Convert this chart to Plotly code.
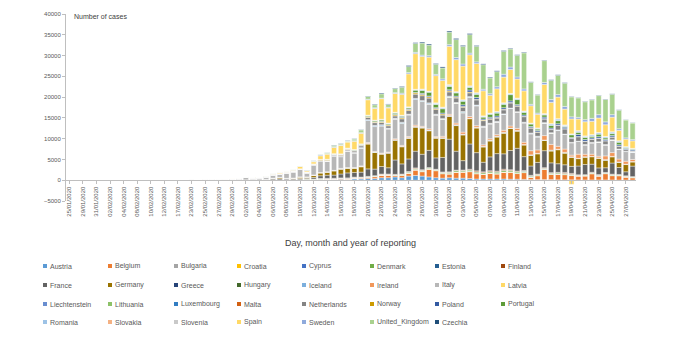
import plotly.graph_objects as go

dates = [
    "25/01/2020", "27/01/2020", "29/01/2020", "30/01/2020", "31/01/2020",
    "01/02/2020", "02/02/2020", "03/02/2020", "04/02/2020", "06/02/2020",
    "08/02/2020", "09/02/2020", "10/02/2020", "11/02/2020", "12/02/2020",
    "14/02/2020", "17/02/2020", "20/02/2020", "23/02/2020", "24/02/2020",
    "25/02/2020", "26/02/2020", "27/02/2020", "28/02/2020", "29/02/2020",
    "01/03/2020", "02/03/2020", "03/03/2020", "04/03/2020", "05/03/2020",
    "06/03/2020", "07/03/2020", "08/03/2020", "09/03/2020", "10/03/2020",
    "11/03/2020", "12/03/2020", "13/03/2020", "14/03/2020", "15/03/2020",
    "16/03/2020", "17/03/2020", "18/03/2020", "19/03/2020", "20/03/2020",
    "21/03/2020", "22/03/2020", "23/03/2020", "24/03/2020", "25/03/2020",
    "26/03/2020", "27/03/2020", "28/03/2020", "29/03/2020", "30/03/2020",
    "31/03/2020", "01/04/2020", "02/04/2020", "03/04/2020", "04/04/2020",
    "05/04/2020", "06/04/2020", "07/04/2020", "08/04/2020", "09/04/2020",
    "10/04/2020", "11/04/2020", "12/04/2020", "13/04/2020", "14/04/2020",
    "15/04/2020", "16/04/2020", "17/04/2020", "18/04/2020", "19/04/2020",
    "20/04/2020", "21/04/2020", "22/04/2020", "23/04/2020", "24/04/2020",
    "25/04/2020", "26/04/2020", "27/04/2020", "28/04/2020",
]

austria = [0,0,0,0,0, 0,0,0,0,0, 0,0,0,0,0, 0,0,0,0,0, 0,2,1,2,4,
           4,4,8,6,8,20,14,25,25,29,
           51,64,115,150,148,205,158,314,314,400,
           400,600,600,800,600,1000,1141,1000,800,600,500,
           600,500,500,400,300,300,300,300,300,250,
           250,200,150,150,150,150,100,100,80,80,
           70,70,70,70,60,50,50,50]
belgium = [0,0,0,0,0, 0,0,0,1,0, 0,0,0,0,0, 0,0,0,0,0, 0,0,0,0,0,
           0,6,6,5,13,27,59,60,30,39,
           28,47,85,160,133,197,172,185,243,309,
           462,558,586,342,526,668,1298,1049,1850,1702,1063,
           876,1384,1422,1661,1260,1123,1380,1209,1580,1684,
           1351,1629,530,942,2454,1236,1329,1236,1045,933,
           973,1487,933,1496,1032,1032,701,553]
bulgaria = [0,0,0,0,0, 0,0,0,0,0, 0,0,0,0,0, 0,0,0,0,0, 0,0,0,0,0,
            0,0,0,0,0,0,0,4,0,2,
            0,1,16,0,10,20,0,30,11,7,
            4,38,38,16,22,22,16,42,27,13,40,
            40,17,27,20,24,8,18,32,19,27,
            22,20,16,13,20,22,29,40,25,31,
            21,31,35,52,43,25,46,24]
croatia = [0,0,0,0,0, 0,0,0,0,0, 0,0,0,0,0, 0,0,0,0,0, 0,1,2,0,2,
           0,0,2,2,1,2,1,1,2,1,
           2,1,5,7,13,11,19,16,24,23,
           36,51,71,27,53,66,91,71,67,77,51,
           96,66,69,28,38,52,36,46,69,51,
           35,25,59,39,20,31,26,33,48,20,
           25,46,24,11,19,32,26,14]
cyprus = [0,0,0,0,0, 0,0,0,0,0, 0,0,0,0,0, 0,0,0,0,0, 0,0,0,0,0,
          0,0,0,0,0,0,0,0,0,2,
          0,1,3,9,12,8,13,21,17,9,
          17,11,3,21,5,8,14,16,9,10,16,
          4,29,24,58,33,19,15,18,22,7,
          21,16,31,8,25,10,19,9,15,8,
          14,9,4,26,12,7,12,5]
denmark = [0,0,0,0,0, 0,0,0,0,0, 0,0,0,0,0, 0,0,0,0,0, 0,0,0,1,1,
           1,1,2,4,5,10,8,7,15,54,
           172,150,150,60,50,30,60,80,100,100,
           100,120,80,100,150,200,200,200,200,150,200,
           250,300,250,300,300,300,300,350,350,300,
           300,250,200,200,200,250,250,200,200,150,
           150,150,150,150,150,150,150,150]
estonia = [0,0,0,0,0, 0,0,0,0,0, 0,0,0,0,0, 0,0,0,0,0, 0,0,0,1,0,
           0,0,1,0,2,0,5,0,1,5,
           0,1,11,6,44,36,53,69,15,41,
           24,40,46,36,55,50,39,36,23,31,57,
           45,50,65,40,79,35,21,74,42,43,
           76,66,81,18,21,10,46,27,28,10,
           9,16,31,15,49,13,8,5]
finland = [0,0,1,0,0, 0,0,0,0,0, 0,0,0,0,0, 0,0,0,0,0, 0,1,0,0,0,
           1,0,0,1,3,6,4,4,0,10,
           10,25,50,53,70,47,89,40,40,40,
           50,79,74,72,80,88,165,108,66,60,62,
           103,79,98,135,221,186,223,162,262,168,
           144,147,107,116,129,118,99,229,199,80,
           77,100,111,51,99,79,70,67]
france = [3,0,0,0,1, 0,0,0,0,0, 5,0,0,1,0, 1,0,0,0,0, 0,2,4,20,19,
          48,20,101,21,80,213,285,201,197,286,
          225,394,634,774,756,948,1198,1118,1184,1800,
          1584,1799,1502,3459,2441,3019,4024,3736,4152,2729,3492,
          7872,4563,2260,6083,4383,2306,3323,4210,3709,4624,
          5489,3322,2253,2804,4091,2357,2072,1841,1700,2107,
          2444,1958,1607,1129,2676,1673,970,2535]
germany = [0,1,3,0,1, 1,1,2,0,2, 0,0,0,2,0, 0,0,0,0,0, 0,0,10,10,26,
           57,66,70,53,66,200,300,129,240,348,
           271,500,693,733,1043,1174,1144,1042,1297,6000,
           4000,3000,3500,4764,4118,4954,5780,6294,4700,4751,4615,
           5453,6156,6174,6082,5936,3677,3834,4003,4974,5323,
           4133,2821,2537,2082,2486,2866,3380,2800,2200,1775,
           1785,1800,2352,1800,1514,1257,1737,1018]
greece = [0,0,0,0,0, 0,0,0,0,0, 0,0,0,0,0, 0,0,0,0,0, 0,0,1,2,0,
          0,0,1,3,6,4,0,21,7,18,
          16,30,36,46,17,38,21,6,31,46,
          34,31,94,71,48,78,71,95,74,64,46,
          85,54,99,28,52,62,55,48,22,15,
          31,27,21,21,19,25,22,26,41,28,
          11,12,9,39,11,0,26,25]
hungary = [0,0,0,0,0, 0,0,0,0,0, 0,0,0,0,0, 0,0,0,0,0, 0,0,0,0,0,
           0,0,0,1,2,0,0,5,0,3,
           2,4,6,3,5,7,11,26,27,23,
           48,24,23,24,24,39,34,39,34,38,38,
           50,60,38,40,53,60,73,78,85,42,
           85,53,110,58,49,156,92,147,51,43,
           72,34,50,115,78,73,68,48]
iceland = [0,0,0,0,0, 0,0,0,0,0, 0,0,0,0,0, 0,0,0,0,0, 0,0,0,0,1,
           0,1,2,10,10,18,9,10,14,11,
           15,24,36,10,39,98,56,45,72,76,
           38,95,54,20,62,85,90,87,73,57,63,
           104,95,53,36,55,20,57,70,88,36,
           38,13,17,11,9,12,3,15,8,2,
           2,3,1,4,4,1,3,1]
ireland = [0,0,0,0,0, 0,0,0,0,0, 0,0,0,0,0, 0,0,0,0,0, 0,0,0,0,0,
           0,1,0,4,5,5,5,2,2,10,
           10,27,20,27,39,40,54,69,74,190,
           126,102,121,219,204,255,302,200,294,200,325,
           295,402,500,424,390,370,345,365,500,480,
           500,553,992,832,1068,1386,700,800,400,1000,
           600,550,400,900,900,700,700,500]
italy = [0,0,0,0,2, 0,0,0,0,0, 0,0,0,0,0, 0,0,0,62,53, 97,93,78,250,238,
         240,561,347,466,587,769,778,1247,1492,1797,
         977,2313,2651,2547,3497,2823,4000,3526,4207,5322,
         5986,6557,5560,4789,5249,5210,6153,5959,5974,5217,4050,
         4053,4782,4668,4585,4805,4316,3599,3039,3836,4204,
         3951,4694,4092,3153,2972,2667,3786,3493,3000,3047,
         2256,2729,3370,2646,3021,2357,2324,1739]
latvia = [0,0,0,0,0, 0,0,0,0,0, 0,0,0,0,0, 0,0,0,0,0, 0,0,0,0,0,
          0,0,0,0,0,1,0,0,0,1,
          1,4,2,10,9,5,3,12,39,11,
          45,7,37,17,17,24,23,26,42,24,28,
          30,29,6,16,19,13,6,16,12,13,
          29,4,15,9,20,9,17,12,-1000,9,
          10,20,26,2,10,8,11,9]
liechtenstein = [0,0,0,0,0, 0,0,0,0,0, 0,0,0,0,0, 0,0,0,0,0, 0,0,0,0,0,
                 0,0,0,0,0,0,0,0,0,0,
                 0,0,0,1,0,0,2,0,2,0,
                 9,0,15,1,1,6,0,5,1,0,3,
                 0,3,4,2,3,2,0,0,0,2,
                 2,0,2,0,0,2,0,0,0,1,
                 0,0,0,0,0,0,0,0]
lithuania = [0,0,0,0,0, 0,0,0,0,0, 0,0,0,0,0, 0,0,0,0,0, 0,0,0,0,1,
             0,0,0,0,0,0,0,0,0,0,
             2,0,1,4,4,12,2,9,10,13,
             23,22,49,8,65,47,27,53,36,76,71,
             97,63,92,38,31,38,52,31,8,25,
             20,15,9,42,21,49,63,31,25,19,
             23,29,23,27,12,10,24,14]
luxembourg = [0,0,0,0,0, 0,0,0,0,0, 0,0,0,0,0, 0,0,0,0,0, 0,0,0,0,0,
              0,0,1,0,1,2,1,1,2,2,
              3,2,12,12,26,34,49,59,132,151,
              214,202,63,123,225,77,200,139,182,95,103,
              174,63,167,146,121,118,75,108,76,66,
              0,100,121,97,88,75,63,62,47,44,
              41,57,51,56,38,28,34,46]
malta = [0,0,0,0,0, 0,0,0,0,0, 0,0,0,0,0, 0,0,0,0,0, 0,0,0,0,0,
         0,0,0,0,0,0,0,1,2,1,
         1,0,6,9,9,3,16,10,10,11,
         11,17,5,17,17,16,20,15,12,14,5,
         14,6,16,2,1,14,14,10,9,7,
         9,19,18,1,19,8,13,10,10,5,
         11,12,4,2,7,5,2,4]
netherlands = [0,0,0,0,0, 0,0,0,0,0, 0,0,0,0,0, 0,0,0,0,0, 0,0,0,1,1,
               3,8,14,14,44,46,44,60,77,56,
               61,121,190,155,176,278,292,346,409,534,
               637,534,573,545,811,852,1019,1172,1159,1104,845,
               1019,1083,1026,904,1224,1316,952,777,969,1213,
               1335,1316,1174,964,867,734,1061,1235,900,1066,
               750,729,797,887,655,708,400,171]
norway = [0,0,0,0,0, 0,0,0,0,0, 0,0,0,0,0, 0,0,0,0,0, 0,0,0,1,5,
          4,6,15,8,26,25,27,60,79,51,
          86,150,200,150,100,120,100,130,150,160,
          150,200,200,250,250,250,300,300,300,250,250,
          250,200,200,200,150,150,150,150,150,120,
          100,100,100,80,80,80,60,60,50,50,
          50,50,50,40,40,30,30,30]
poland = [0,0,0,0,0, 0,0,0,0,0, 0,0,0,0,0, 0,0,0,0,0, 0,0,0,0,0,
          0,0,0,1,0,4,1,6,6,6,
          9,14,19,20,40,37,53,61,48,70,
          69,111,98,115,152,170,111,249,190,193,243,
          256,244,392,475,437,244,325,357,370,380,
          270,300,283,318,380,300,360,350,200,500,
          400,300,380,300,350,300,250,250]
portugal = [0,0,0,0,0, 0,0,0,0,0, 0,0,0,0,0, 0,0,0,0,0, 0,0,0,0,0,
            0,0,2,2,3,4,8,8,9,9,
            11,18,19,34,57,76,86,117,194,235,
            260,320,260,302,235,302,549,724,902,792,1035,
            808,783,852,638,754,452,712,699,815,1516,
            1214,638,598,349,514,643,750,181,657,521,
            516,371,603,371,444,595,163,183]
romania = [0,0,0,0,0, 0,0,0,0,0, 0,0,0,0,0, 0,0,0,0,0, 0,0,1,0,2,
           0,0,0,1,1,1,3,2,8,6,
           14,14,11,25,35,50,41,32,60,31,
           31,40,66,143,186,123,144,263,186,293,251,
           308,223,309,309,334,234,229,333,300,280,
           310,300,200,250,200,350,440,300,200,300,
           300,360,350,300,400,300,250,200]
slovakia = [0,0,0,0,0, 0,0,0,0,0, 0,0,0,0,0, 0,0,0,0,0, 0,0,0,0,0,
            0,0,0,0,0,0,1,1,3,2,
            3,5,9,11,18,22,25,23,7,14,
            41,48,8,39,25,14,10,20,22,14,68,
            37,25,26,29,29,34,47,20,34,15,
            41,14,18,14,95,65,14,43,18,88,
            63,46,34,53,33,62,33,23]
slovenia = [0,0,0,0,0, 0,0,0,0,0, 0,0,0,0,0, 0,0,0,0,0, 0,0,0,0,0,
            0,0,0,1,3,2,7,4,9,1,
            5,22,32,31,43,34,26,9,38,44,
            55,69,29,31,28,40,59,40,54,67,75,
            84,44,30,37,29,46,21,14,31,0,
            19,24,15,14,31,12,14,27,8,17,
            2,10,14,9,20,10,4,10]
spain = [0,0,0,0,0, 1,0,0,0,0, 1,0,0,0,0, 0,0,0,0,0, 0,6,2,8,12,
         13,13,45,20,48,120,200,100,176,565,
         257,501,864,1227,1522,2000,1438,1987,2538,3700,
         2833,4946,3646,4517,5000,7937,8578,7871,8189,6549,6398,
         9222,7719,8102,7472,7026,6023,4273,5478,6180,5756,
         4576,4830,4167,3268,7000,5103,5200,3800,3600,2800,
         3400,3200,3500,2800,3500,2500,1800,1800]
sweden = [0,0,0,0,1, 0,0,0,0,0, 0,0,0,0,0, 0,0,0,0,0, 0,0,0,0,0,
          1,2,7,15,20,36,46,24,42,45,
          124,132,200,100,150,100,100,120,150,150,
          150,130,150,200,300,300,314,300,350,300,400,
          400,500,500,400,400,380,380,500,700,600,
          500,470,350,300,500,700,600,650,500,400,
          500,700,800,700,600,400,300,300]
united_kingdom = [0,0,0,0,2, 0,0,0,0,1, 0,4,1,0,0, 0,0,0,0,4, 0,0,3,2,4,
                  12,12,4,11,34,29,48,45,69,43,
                  62,77,130,208,342,251,152,407,676,643,
                  714,1035,665,967,1427,1452,2129,2885,2546,2433,2619,
                  3009,4324,4244,4450,3735,5903,3802,3634,5491,4344,
                  5195,8681,5288,4342,5252,4603,4617,5599,4800,4676,
                  4301,4451,4583,5386,4913,4463,4310,3996]
czechia = [0,0,0,0,0, 0,0,0,0,0, 0,0,0,0,0, 0,0,0,0,0, 0,0,0,0,0,
           0,3,2,0,3,4,7,7,6,9,
           25,31,22,33,75,84,85,79,69,106,
           140,190,135,130,193,250,200,240,250,179,256,
           263,271,235,251,200,200,180,200,200,150,
           150,150,120,100,120,150,150,120,100,80,
           100,100,100,100,100,80,50,60]

countries = ["Austria", "Belgium", "Bulgaria", "Croatia", "Cyprus", "Denmark",
             "Estonia", "Finland", "France", "Germany", "Greece", "Hungary",
             "Iceland", "Ireland", "Italy", "Latvia", "Liechtenstein", "Lithuania",
             "Luxembourg", "Malta", "Netherlands", "Norway", "Poland", "Portugal",
             "Romania", "Slovakia", "Slovenia", "Spain", "Sweden",
             "United_Kingdom", "Czechia"]
series = [austria, belgium, bulgaria, croatia, cyprus, denmark, estonia, finland,
          france, germany, greece, hungary, iceland, ireland, italy, latvia,
          liechtenstein, lithuania, luxembourg, malta, netherlands, norway, poland,
          portugal, romania, slovakia, slovenia, spain, sweden, united_kingdom,
          czechia]
colors = ["#5B9BD5", "#ED7D31", "#A5A5A5", "#FFC000", "#4472C4", "#70AD47",
          "#255E91", "#9E480E", "#636363", "#997300", "#264478", "#43682B",
          "#7CAFDD", "#F1975A", "#B7B7B7", "#FFD966", "#698ED0", "#8CC168",
          "#327DC2", "#D26012", "#848484", "#CC9A00", "#335AA1", "#5E9C39",
          "#9DC3E6", "#F4B183", "#C9C9C9", "#FFD966", "#8FAADC", "#A9D18E",
          "#1F4E79"]

for s in series:
    assert len(s) == len(dates), len(s)

W, H = 675, 337
ML, MR, MT, MB = 66, 39, 14, 136
PW, PH = W - ML - MR, H - MT - MB


def px_x(px):
    return (px - ML) / PW


def px_y(py):
    return (H - MB - py) / PH


fig = go.Figure()
for name, col, vals in zip(countries, colors, series):
    fig.add_trace(go.Bar(
        x=dates, y=vals, name=name,
        marker=dict(color=col, line=dict(color="white", width=0.4)),
        showlegend=False,
    ))

y_min, y_max = -5000, 40000
fig.update_layout(
    width=W, height=H,
    margin=dict(l=ML, r=MR, t=MT, b=MB, pad=0),
    barmode="relative", bargap=0.25,
    plot_bgcolor="white", paper_bgcolor="white",
    font=dict(family="Liberation Sans", color="#595959"),
    showlegend=False,
)
fig.update_yaxes(
    range=[y_min, y_max], tickmode="linear", tick0=0, dtick=5000,
    tickformat="d", showline=True, linecolor="#BFBFBF", linewidth=1,
    ticks="outside", ticklen=3, tickcolor="#BFBFBF",
    tickfont=dict(size=6, color="#595959"),
    showgrid=False, zeroline=False,
)
fig.update_xaxes(
    type="category", range=[-0.5, len(dates) - 0.5],
    anchor="free", position=(0 - y_min) / (y_max - y_min),
    showline=True, linecolor="#BFBFBF", linewidth=1,
    ticks="outside", ticklen=3, tickcolor="#BFBFBF",
    tickangle=-90, tickmode="array", tickvals=dates[::2], ticktext=dates[::2],
    tickfont=dict(size=6, color="#595959"), showgrid=False,
)

fig.add_annotation(xref="paper", yref="paper", x=px_x(72), y=px_y(16),
                   text="Number of cases", showarrow=False, xanchor="left",
                   yanchor="middle", font=dict(size=7, color="#404040"))
fig.add_annotation(xref="paper", yref="paper", x=px_x(350), y=px_y(243),
                   text="Day, month and year of reporting", showarrow=False,
                   xanchor="center", yanchor="middle",
                   font=dict(size=9, color="#404040"))

col_x = [45, 110, 176, 239, 304, 372, 437, 503]
row_y = [266, 285, 304, 322]
for k, (name, col) in enumerate(zip(countries, colors)):
    r, c = divmod(k, 8)
    cx, cy = col_x[c], row_y[r]
    fig.add_shape(type="rect", xref="paper", yref="paper",
                  x0=px_x(cx - 2), x1=px_x(cx + 2),
                  y0=px_y(cy + 2), y1=px_y(cy - 2),
                  fillcolor=col, line=dict(width=0))
    fig.add_annotation(xref="paper", yref="paper", x=px_x(cx + 3), y=px_y(cy),
                       text=name, showarrow=False, xanchor="left",
                       yanchor="middle", font=dict(size=7, color="#595959"))

fig.write_html("out.html")
